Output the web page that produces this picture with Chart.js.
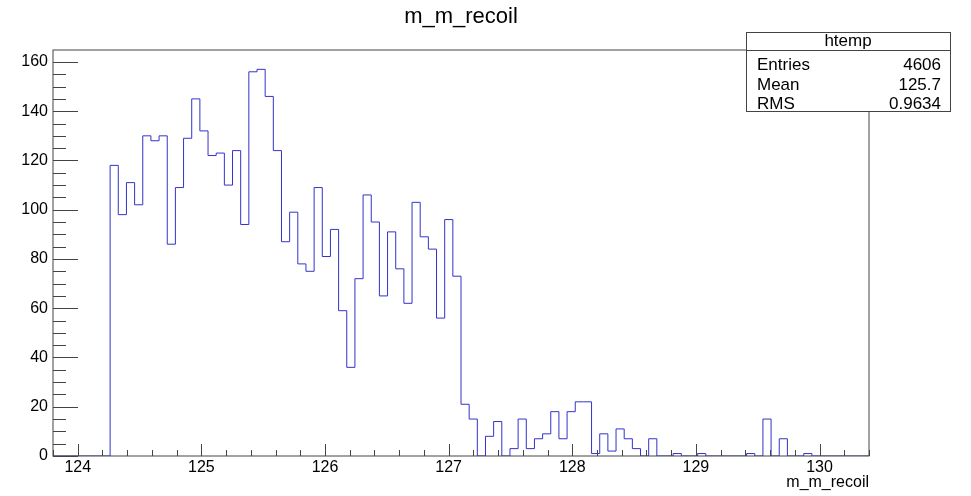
<!DOCTYPE html>
<html>
<head>
<meta charset="utf-8">
<script src="https://cdn.jsdelivr.net/npm/chart.js@4/dist/chart.umd.min.js"></script>
<style>
  body { margin: 0; background: #fff; }
  canvas { display: block; }
</style>
</head>
<body>
<canvas id="hist" width="971" height="496"></canvas>
<script>
  // histogram binning (ROOT htemp, 100 bins)
  var xMin = 123.8;
  var xMax = 130.4;
  var counts = [
    0, 0, 0, 0, 0, 0, 0, 118, 98, 111,
    102, 130, 128, 130, 86, 109, 129, 145, 132, 122,
    123, 110, 124, 94, 156, 157, 146, 124, 87, 99,
    78, 75, 109, 81, 92, 59, 36, 72, 106, 95,
    65, 91, 76, 62, 103, 89, 84, 56, 96, 73,
    21, 15, 0, 8, 14, 0, 3, 15, 3, 7,
    9, 18, 7, 18, 22, 22, 1, 9, 2, 11,
    7, 3, 0, 7, 0, 0, 1, 0, 0, 1,
    0, 0, 0, 0, 0, 1, 0, 15, 0, 7,
    0, 0, 1, 0, 0, 0, 0, 0, 0, 0
  ];
  var xTicks = [124, 125, 126, 127, 128, 129, 130];
  var yTicks = [0, 20, 40, 60, 80, 100, 120, 140, 160];
  var yMax = 164.85;
  var histName = "htemp";
  var statLabels = ["Entries", "Mean", "RMS"];
  var statValues = ["4606", "125.7", "0.9634"];

  var FONT = '"Liberation Sans", Arial, Helvetica, sans-serif';

  var binWidth = (xMax - xMin) / counts.length;
  var points = counts.map(function(c, i) { return { x: xMin + i * binWidth, y: c }; });
  points.push({ x: xMax, y: counts[counts.length - 1] });

  // frame, inner ticks, title and stats box drawn the ROOT way
  var rootFrame = {
    id: 'rootFrame',
    afterDraw: function(chart) {
      var ctx = chart.ctx, a = chart.chartArea;
      var xs = chart.scales.x, ys = chart.scales.y;
      ctx.save();
      ctx.strokeStyle = '#444';
      ctx.lineWidth = 1;
      ctx.strokeRect(a.left, a.top, a.right - a.left, a.bottom - a.top);

      ctx.beginPath();
      for (var v = 0; v <= yMax; v += 5) {
        var py = Math.round(ys.getPixelForValue(v)) + 0.5;
        var len = (v % 20 === 0) ? 25 : 13;
        ctx.moveTo(a.left, py);
        ctx.lineTo(a.left + len, py);
      }
      for (var k = -1; k <= 32; k++) {
        var xv = 124 + k * 0.2;
        if (xv < xMin - 1e-6 || xv > xMax + 1e-6) continue;
        var px = Math.round(xs.getPixelForValue(xv)) + 0.5;
        var l2 = (k % 5 === 0) ? 12 : 6;
        ctx.moveTo(px, a.bottom);
        ctx.lineTo(px, a.bottom - l2);
      }
      ctx.stroke();

      ctx.fillStyle = '#000';
      ctx.font = '22px ' + FONT;
      ctx.textAlign = 'center';
      ctx.textBaseline = 'alphabetic';
      ctx.fillText('m_m_recoil', (a.left + a.right) / 2, 23);

      ctx.font = '16px ' + FONT;
      ctx.textAlign = 'right';
      ctx.fillText('m_m_recoil', a.right, 487);

      // stats box
      var bx = 746, by = 32, bw = 204, bh = 79;
      ctx.fillStyle = '#fff';
      ctx.fillRect(bx, by, bw, bh);
      ctx.strokeRect(bx + 0.5, by + 0.5, bw, bh);
      ctx.beginPath();
      ctx.moveTo(bx, 50.5);
      ctx.lineTo(bx + bw, 50.5);
      ctx.stroke();
      ctx.fillStyle = '#000';
      ctx.font = '17px ' + FONT;
      ctx.textAlign = 'center';
      ctx.fillText(histName, bx + bw / 2, 46);
      var rows = [70, 90, 109];
      for (var r = 0; r < statLabels.length; r++) {
        ctx.textAlign = 'left';
        ctx.fillText(statLabels[r], 757, rows[r]);
        ctx.textAlign = 'right';
        ctx.fillText(statValues[r], 941, rows[r]);
      }
      ctx.restore();
    }
  };

  new Chart(document.getElementById('hist').getContext('2d'), {
    type: 'line',
    data: {
      datasets: [{
        data: points,
        stepped: true,
        borderColor: 'rgb(51,51,204)',
        borderWidth: 1,
        pointRadius: 0,
        fill: false,
        tension: 0
      }]
    },
    options: {
      responsive: false,
      animation: false,
      layout: { padding: { top: 50, right: 102, bottom: 0, left: 0 } },
      plugins: { legend: { display: false }, tooltip: { enabled: false }, title: { display: false } },
      scales: {
        x: {
          type: 'linear',
          min: xMin,
          max: xMax,
          afterBuildTicks: function(s) { s.ticks = xTicks.map(function(v) { return { value: v }; }); },
          afterFit: function(s) { s.height = 40; },
          grid: { display: false, drawTicks: false },
          border: { display: false },
          ticks: { autoSkip: false, maxRotation: 0, padding: 2, color: '#000', font: { family: FONT, size: 16 } }
        },
        y: {
          min: 0,
          max: yMax,
          afterBuildTicks: function(s) { s.ticks = yTicks.map(function(v) { return { value: v }; }); },
          afterFit: function(s) { s.width = 53; },
          grid: { display: false, drawTicks: false },
          border: { display: false },
          ticks: { autoSkip: false, padding: 5, color: '#000', font: { family: FONT, size: 16 } }
        }
      }
    },
    plugins: [rootFrame]
  });
</script>
</body>
</html>
